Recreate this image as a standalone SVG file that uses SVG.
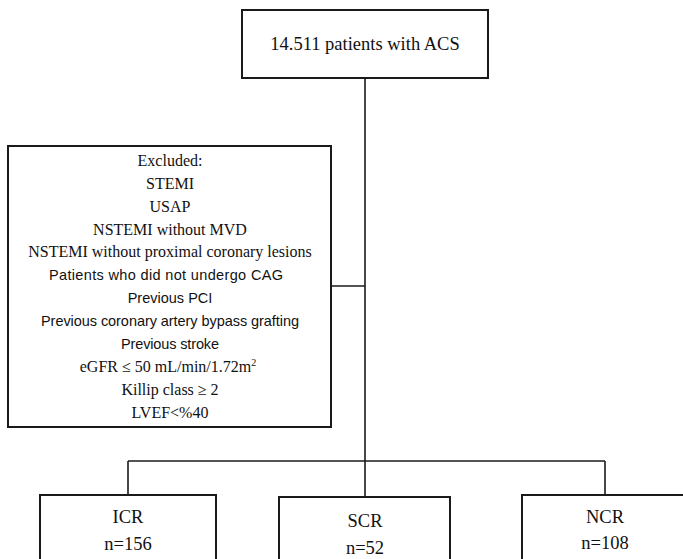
<svg xmlns="http://www.w3.org/2000/svg" width="683" height="559" viewBox="0 0 683 559">
<style>
.box{fill:#fff;stroke:#1a1a1a;stroke-width:2}
.ln{fill:none;stroke:#1a1a1a;stroke-width:1.6}
.s{font-family:"Liberation Serif","Times New Roman",serif;fill:#111;text-anchor:middle}
.ss{font-family:"Liberation Sans",Arial,sans-serif;fill:#111;text-anchor:middle;font-size:14.5px}
.ex{font-size:16px}
.big{font-size:18.5px}
</style>
<rect width="683" height="559" fill="#fff"/>
<g id="connectors">
<line class="ln" x1="365" y1="78" x2="365" y2="497"/>
<line class="ln" x1="331" y1="286" x2="365" y2="286"/>
<line class="ln" x1="128" y1="461" x2="605" y2="461"/>
<line class="ln" x1="128" y1="461" x2="128" y2="495"/>
<line class="ln" x1="605" y1="461" x2="605" y2="495"/>
</g>
<g id="node-total">
<rect class="box" x="242" y="10" width="246" height="68"/>
<text class="s big" x="365" y="50">14.511 patients with ACS</text>
</g>
<g id="node-excluded">
<rect class="box" x="8" y="146" width="323" height="281"/>
<text class="s ex" x="170" y="166">Excluded:</text>
<text class="s ex" x="170" y="189">STEMI</text>
<text class="s ex" x="170" y="212">USAP</text>
<text class="s ex" x="170" y="235">NSTEMI without MVD</text>
<text class="s ex" x="170" y="257">NSTEMI without proximal coronary lesions</text>
<text class="ss" x="166" y="280" textLength="234">Patients who did not undergo CAG</text>
<text class="ss" x="170" y="303" font-size="14">Previous PCI</text>
<text class="ss" x="170" y="326" textLength="258">Previous coronary artery bypass grafting</text>
<text class="ss" x="170" y="349" textLength="98">Previous stroke</text>
<text class="s ex" x="168" y="372">eGFR ≤ 50 mL/min/1.72m<tspan font-size="10" dy="-6">2</tspan></text>
<text class="s ex" x="170" y="395">Killip class ≥ 2</text>
<text class="s ex" x="170" y="418">LVEF&lt;%40</text>
</g>
<g id="node-icr">
<rect class="box" x="40" y="495" width="176" height="90"/>
<text class="s big" x="128" y="523">ICR</text>
<text class="s big" x="128" y="550">n=156</text>
</g>
<g id="node-scr">
<rect class="box" x="279" y="497" width="171" height="90"/>
<text class="s big" x="365" y="527">SCR</text>
<text class="s big" x="365" y="554">n=52</text>
</g>
<g id="node-ncr">
<rect class="box" x="522" y="495" width="170" height="90"/>
<text class="s big" x="605" y="523">NCR</text>
<text class="s big" x="605" y="549">n=108</text>
</g>
</svg>
